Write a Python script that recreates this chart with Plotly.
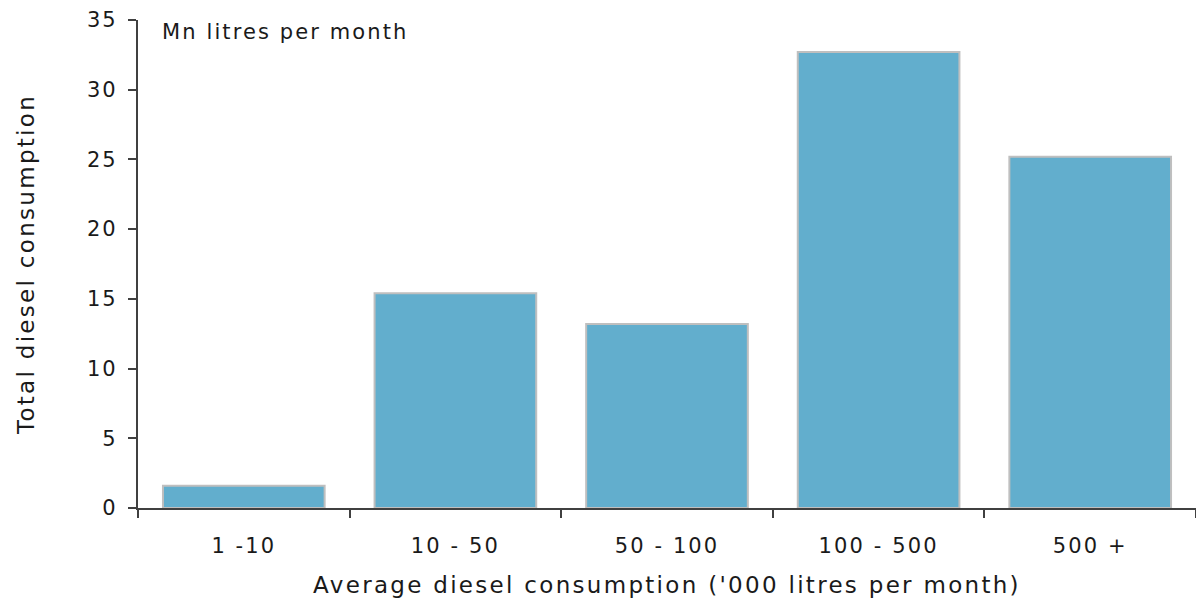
import plotly.graph_objects as go

# Diesel consumption by consumer size band
categories = ["1 -10", "10 - 50", "50 - 100", "100 - 500", "500 +"]
consumption_mn_litres = [1.6, 15.4, 13.2, 32.7, 25.2]

FONT = "'DejaVu Sans', sans-serif"
TEXT = "#1a1a1a"
AXIS = "#404040"

fig = go.Figure(
    go.Bar(
        x=categories,
        y=consumption_mn_litres,
        marker=dict(color="#62AECD", line=dict(color="#BFBFBF", width=2)),
        hoverinfo="x+y",
    )
)

fig.update_layout(
    width=1196,
    height=605,
    margin=dict(l=138, r=0, t=20, b=97),
    paper_bgcolor="white",
    plot_bgcolor="white",
    bargap=0.236,
    showlegend=False,
    font=dict(family=FONT, color=TEXT, size=21),
    annotations=[
        dict(
            text="Mn litres per month",
            xref="paper", yref="paper",
            x=0.0395, y=0.976,
            xanchor="left", yanchor="middle",
            showarrow=False,
            font=dict(family=FONT, size=21, color=TEXT),
        )
    ],
)

fig.update_xaxes(
    type="category",
    showline=True, linecolor=AXIS, linewidth=2,
    ticks="outside", tickson="boundaries", ticklen=8, tickcolor=AXIS, tickwidth=2,
    ticklabelstandoff=18,
    showgrid=False,
    tickfont=dict(family=FONT, size=21, color=TEXT),
    title=dict(text="Average diesel consumption ('000 litres per month)",
               font=dict(family=FONT, size=23, color=TEXT), standoff=20),
)

fig.update_yaxes(
    range=[0, 35], dtick=5,
    showline=True, linecolor=AXIS, linewidth=2,
    ticks="outside", ticklen=8, tickcolor=AXIS, tickwidth=2,
    ticklabelstandoff=6,
    showgrid=False, zeroline=False,
    tickfont=dict(family=FONT, size=21, color=TEXT),
    title=dict(text="Total diesel consumption",
               font=dict(family=FONT, size=23, color=TEXT), standoff=50),
)

# Open up the lettering a little for a wider, geometric look
widen_text = """
document.querySelectorAll('.main-svg text').forEach(function (t) {
    t.style.letterSpacing = '0.1em';
});
"""

fig.write_html("out.html", post_script=widen_text)
